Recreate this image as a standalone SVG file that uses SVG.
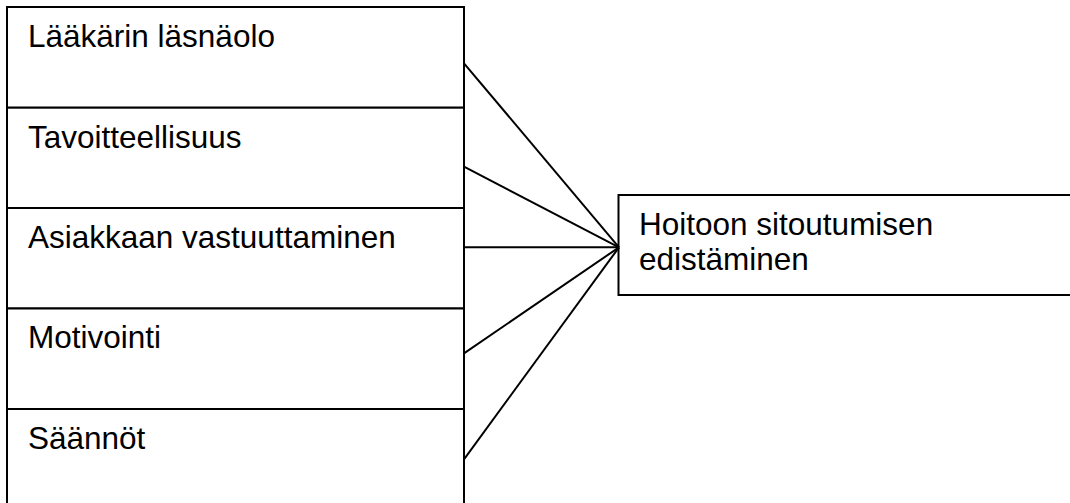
<svg xmlns="http://www.w3.org/2000/svg" width="1070" height="503" viewBox="0 0 1070 503">
<style>
.box{fill:#fff;stroke:#000;stroke-width:2}
.t{font-family:"Liberation Sans",Arial,sans-serif;font-size:31.5px;fill:#000}
.c{stroke:#000;stroke-width:2;fill:none}
</style>
<rect x="0" y="0" width="1070" height="503" fill="#fff"/>
<g id="n1"><rect class="box" x="7" y="7" width="457" height="100.7"/><text class="t" x="28" y="46.7">Lääkärin läsnäolo</text></g>
<g id="n2"><rect class="box" x="7" y="107.7" width="457" height="100.3"/><text class="t" x="28" y="147.7">Tavoitteellisuus</text></g>
<g id="n3"><rect class="box" x="7" y="208" width="457" height="100.5"/><text class="t" x="28" y="248">Asiakkaan vastuuttaminen</text></g>
<g id="n4"><rect class="box" x="7" y="308.5" width="457" height="100.5"/><text class="t" x="28" y="348.3">Motivointi</text></g>
<g id="n5"><rect class="box" x="7" y="409" width="457" height="110"/><text class="t" x="28" y="448.5">Säännöt</text></g>
<g id="n6"><rect class="box" x="618.5" y="195" width="470" height="100"/><text class="t" x="639" y="235">Hoitoon sitoutumisen</text><text class="t" x="639" y="270">edistäminen</text></g>
<g id="connectors">
<line class="c" x1="464" y1="63.3" x2="619" y2="247.3"/>
<line class="c" x1="464" y1="166.7" x2="619" y2="247.3"/>
<line class="c" x1="464" y1="247.3" x2="619" y2="247.3"/>
<line class="c" x1="464" y1="353.3" x2="619" y2="247.3"/>
<line class="c" x1="464" y1="459.3" x2="619" y2="247.3"/>
</g>
</svg>
